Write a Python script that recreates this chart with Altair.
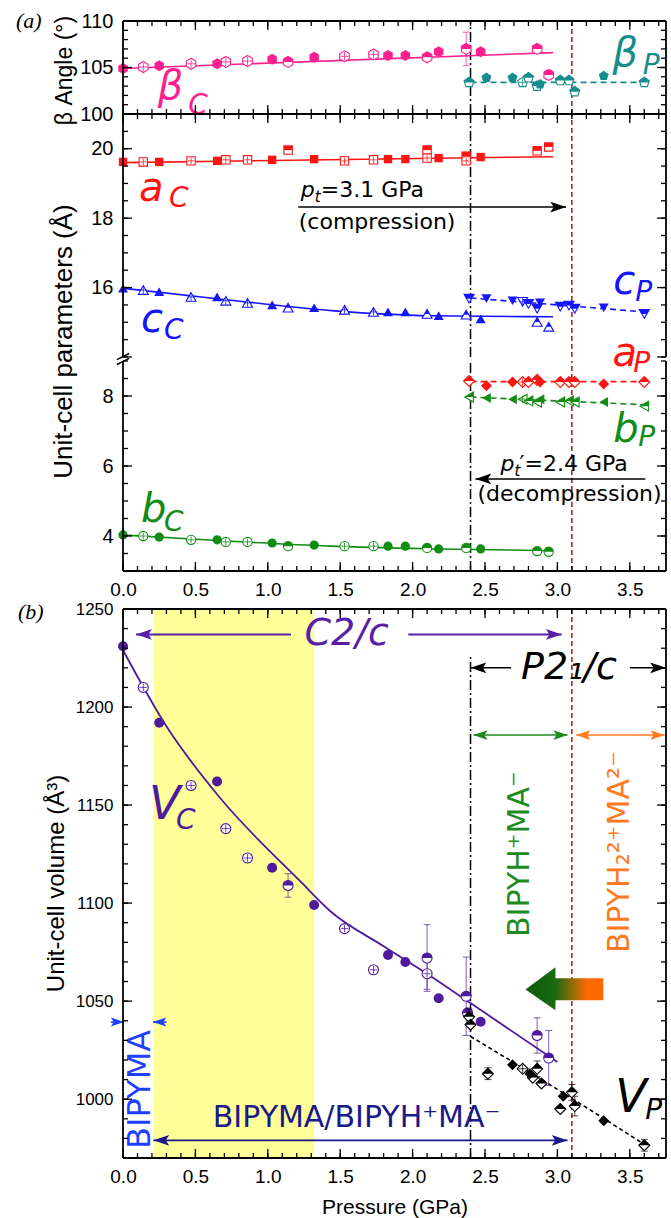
import altair as alt
import pandas as pd

SANS = "Liberation Sans"
DJ = "DejaVu Sans"
SERIF = "Liberation Serif"

# ---------------- axis ticks / labels ----------------
X_MAX = 3.75
X_TICKS = [0.0, 0.5, 1.0, 1.5, 2.0, 2.5, 3.0, 3.5]
X_MINOR = [round(0.1 * i, 1) for i in range(38)]
BETA_TICKS = [100, 105, 110]
BETA_MINOR = list(range(100, 111))
UP_TICKS = [16, 18, 20]
UP_MAJOR = [14, 16, 18, 20]
UP_MINOR = [14 + 0.5 * i for i in range(15)]
LO_TICKS = [4, 6, 8]
LO_MINOR = [3 + 0.5 * i for i in range(13)]
VOL_TICKS = [1000, 1050, 1100, 1150, 1200, 1250]
VOL_MINOR = list(range(970, 1251, 10))

P_DEC = 2.4   # p_t' (decompression)
P_CMP = 3.1   # p_t (compression)

# ---------------- C2/c phase ----------------
PC = [0.0, 0.14, 0.25, 0.47, 0.65, 0.71, 0.86, 1.03, 1.14, 1.32,
      1.53, 1.73, 1.83, 1.95, 2.10, 2.18, 2.37, 2.47, 2.86, 2.94]
KC = ['f', 'o', 'f', 'o', 'f', 'o', 'o', 'f', 'h', 'f',
      'o', 'o', 'f', 'f', 'h', 'f', 'h', 'f', 'h', 'h']
BETA_C = [104.9, 105.05, 105.2, 105.4, 105.4, 105.6, 105.7, 105.9, 105.6, 106.1,
          106.2, 106.4, 106.3, 106.3, 106.1, 106.7, 107.0, 106.7, 107.0, 104.2]
BETA_C_ERR = [0, 0, 0, 0, 0, 0, 0, 0, 0, 0, 0, 0, 0, 0, 0.4, 0, 1.8, 0, 0.4, 0.5]
A_C = [19.62, 19.62, 19.62, 19.65, 19.65, 19.68, 19.68, 19.68, 19.96, 19.70,
       19.65, 19.68, 19.70, 19.70, 19.96, 19.73, 19.78, 19.76, 19.94, 20.05]
A_C_ERR = [0, 0, 0, 0, 0, 0, 0, 0, 0, 0, 0, 0, 0, 0, 0.06, 0, 0.12, 0, 0.06, 0.1]
A_C_EXTRA_P = [2.10, 2.37]
A_C_EXTRA = [19.73, 19.65]
C_C = [15.98, 15.93, 15.88, 15.73, 15.73, 15.62, 15.56, 15.50, 15.42, 15.42,
       15.36, 15.30, 15.30, 15.30, 15.24, 15.19, 15.22, 15.10, 15.01, 14.87]
B_C = [4.03, 4.00, 3.97, 3.89, 3.89, 3.83, 3.83, 3.80, 3.71, 3.74,
       3.71, 3.71, 3.71, 3.71, 3.66, 3.63, 3.66, 3.63, 3.57, 3.55]

PV = [0.0, 0.14, 0.25, 0.47, 0.65, 0.71, 0.86, 1.03, 1.14, 1.32, 1.53,
      1.73, 1.83, 1.95, 2.10, 2.10, 2.18, 2.37, 2.38, 2.47, 2.86, 2.94]
KV = ['f', 'o', 'f', 'o', 'f', 'o', 'o', 'f', 'h', 'f', 'o',
      'o', 'f', 'f', 'h', 'o', 'f', 'h', 'h', 'f', 'h', 'h']
V_C = [1231, 1210, 1192, 1160, 1162, 1138, 1123, 1118, 1109, 1099, 1087,
       1066, 1073.5, 1070, 1072, 1064, 1051.5, 1052.5, 1044, 1039.5, 1032.5, 1021]
V_C_ERR = [0, 0, 0, 0, 0, 0, 0, 0, 6, 0, 0,
           0, 0, 0, 17, 8, 0, 20, 0, 0, 9, 14]

# ---------------- P2_1/c phase ----------------
PP = [2.39, 2.51, 2.69, 2.76, 2.80, 2.86, 2.88, 3.02, 3.08, 3.12, 3.32, 3.60]
KP = ['h', 'f', 'f', 'o', 'h', 'h', 'f', 'h', 'h', 'h', 'f', 'h']
BETA_P = [103.4, 103.9, 103.9, 103.4, 103.9, 103.0, 103.2, 103.6, 103.6, 102.4, 104.1, 103.4]
C_P = [15.68, 15.68, 15.62, 15.59, 15.53, 15.39, 15.56, 15.45, 15.48, 15.39, 15.42, 15.24]
A_P = [8.43, 8.29, 8.40, 8.40, 8.40, 8.46, 8.40, 8.40, 8.40, 8.40, 8.34, 8.40]
B_P = [7.97, 7.94, 7.91, 7.91, 7.86, 7.83, 7.91, 7.83, 7.86, 7.83, 7.83, 7.71]

PVP = [2.39, 2.40, 2.52, 2.69, 2.76, 2.81, 2.83, 2.86, 2.89, 3.02, 3.04, 3.10, 3.12, 3.32, 3.60]
KVP = ['h', 'h', 'h', 'f', 'o', 'f', 'h', 'h', 'h', 'h', 'f', 'h', 'h', 'f', 'h']
V_P = [1042, 1038, 1013, 1017.5, 1015.5, 1013, 1011, 1015.5, 1008, 995, 1001.5, 1003.5, 996.5, 989, 976.5]
V_P_ERR = [4, 0, 3, 0, 0, 0, 0, 4, 0, 0, 0, 4, 5, 0, 3]

# ---------------- fitted curves ----------------
BETA_C_FIT_P, BETA_C_FIT = [0.0, 2.97], [104.9, 106.6]
BETA_P_FIT_P, BETA_P_FIT = [2.4, 3.6], [103.4, 103.4]
A_C_FIT_P, A_C_FIT = [0.0, 2.97], [19.60, 19.77]
C_C_FIT_P, C_C_FIT = [0.0, 0.65, 1.46, 2.12, 2.97], [15.98, 15.68, 15.33, 15.19, 15.16]
B_C_FIT_P, B_C_FIT = [0.0, 0.65, 1.43, 2.2, 2.97], [4.03, 3.87, 3.71, 3.63, 3.58]
C_P_FIT_P, C_P_FIT = [2.4, 3.0, 3.6], [15.70, 15.50, 15.30]
A_P_FIT_P, A_P_FIT = [2.4, 3.6], [8.41, 8.41]
B_P_FIT_P, B_P_FIT = [2.4, 3.6], [7.97, 7.75]
V_C_FIT_P = [0.0, 0.31, 0.655, 1.23, 1.43, 1.8, 2.12, 2.40, 3.0]
V_C_FIT = [1229, 1189, 1155, 1110.7, 1096, 1078, 1063, 1049, 1019]
V_P_FIT_P, V_P_FIT = [2.4, 3.0, 3.62], [1032, 1005, 976]

# ---------------- colours ----------------
PINK = "#ff1f8f"
TEAL = "#168c8c"
RED = "#ff1414"
BLUE = "#1414ff"
GREEN = "#128c12"
PURPLE = "#4f1a9c"
NAVY = "#1a1a8a"
DRED = "#9c1a1a"
ORANGE = "#ff7a1f"
BBLUE = "#1f3fff"

# ---------------- shapes ----------------
HEX = "M0,-1L0.866,-0.5L0.866,0.5L0,1L-0.866,0.5L-0.866,-0.5Z"
HEX_H = "M-0.866,0L-0.866,-0.5L0,-1L0.866,-0.5L0.866,0Z"
PENT = "M0,-1L0.951,-0.309L0.588,0.809L-0.588,0.809L-0.951,-0.309Z"
PENT_H = "M0,-1L0.951,-0.309L0.851,0L-0.851,0L-0.951,-0.309Z"
SQ_H = "M-1,-1L1,-1L1,0L-1,0Z"
CIRC_H = "M-1,0A1,1,0,0,1,1,0Z"
DIA_H = "M-1,0L0,-1L1,0Z"
TRU_H = "M0,-0.866L0.5,0L-0.5,0Z"
TRD_H = "M-1,-0.866L1,-0.866L0.5,0L-0.5,0Z"
TRL_H = "M-0.866,0L0.866,-1L0.866,0Z"
CROSS = "M-0.75,0L0.75,0M0,-0.75L0,0.75"
HEAD_R = "M0,0L-1,-0.34L-0.78,0L-1,0.34Z"
HEAD_L = "M0,0L1,-0.34L0.78,0L1,0.34Z"
BREAK = "M-1,0.1L1,-0.9M-1,0.9L1,-0.1"

# ---------------- geometry ----------------
W = 543
HB, HU = 93, 243
GAP_L, HL = 4, 210     # lower panel (a) part: small gap at the axis break
GAP_V, HV = 38, 549    # panel (b): gap for panel (a) tick labels
xs = alt.Scale(domain=[0, X_MAX], nice=False, zero=False)
ys_b = alt.Scale(domain=[100, 110], nice=False, zero=False)
ys_u = alt.Scale(domain=[14, 21], nice=False, zero=False)
ys_l = alt.Scale(domain=[3, 9], nice=False, zero=False, range=[GAP_L + HL, GAP_L])
ys_v = alt.Scale(domain=[970, 1250], nice=False, zero=False, range=[GAP_V + HV, GAP_V])


def one():
    return pd.DataFrame({'d': [0]})


# data layers leave the axis implicit; the explicit axes of the axes layer win the merge
def XQ(f):
    return alt.X(f, type='quantitative', scale=xs)


def YQ(f, ys):
    return alt.Y(f, type='quantitative', scale=ys)


def frame(ys, ylo, yhi, ymaj, ymin, top=True, bottom=True):
    """Plot frame drawn through the scales, with inward ticks."""
    L = []
    e = pd.DataFrame({'a': [0.0], 'b': [X_MAX], 'lo': [ylo], 'hi': [yhi]})
    L.append(alt.Chart(e).mark_rule(color='black', strokeWidth=1.8).encode(
        x=XQ('a'), y=YQ('lo', ys), y2=alt.Y2('hi')))
    L.append(alt.Chart(e).mark_rule(color='black', strokeWidth=1.8).encode(
        x=XQ('b'), y=YQ('lo', ys), y2=alt.Y2('hi')))
    if top:
        L.append(alt.Chart(e).mark_rule(color='black', strokeWidth=1.8).encode(
            x=XQ('a'), x2=alt.X2('b'), y=YQ('hi', ys)))
    if bottom:
        L.append(alt.Chart(e).mark_rule(color='black', strokeWidth=1.8).encode(
            x=XQ('a'), x2=alt.X2('b'), y=YQ('lo', ys)))
    for vals, ln in ((X_TICKS, 9), (X_MINOR, 5)):
        df = pd.DataFrame({'t': vals})
        df['lo'] = ylo
        df['hi'] = yhi
        if top:
            L.append(alt.Chart(df).mark_tick(orient='vertical', size=ln, thickness=1.3, color='black',
                                             opacity=1, yOffset=ln / 2).encode(
                x=XQ('t'), y=YQ('hi', ys)))
        if bottom:
            L.append(alt.Chart(df).mark_tick(orient='vertical', size=ln, thickness=1.3, color='black',
                                             opacity=1, yOffset=-ln / 2).encode(
                x=XQ('t'), y=YQ('lo', ys)))
    for vals, ln in ((ymaj, 9), (ymin, 5)):
        df = pd.DataFrame({'t': vals})
        df['a'] = 0.0
        df['b'] = X_MAX
        L.append(alt.Chart(df).mark_tick(orient='horizontal', size=ln, thickness=1.3, color='black',
                                         opacity=1, xOffset=ln / 2).encode(
            x=XQ('a'), y=YQ('t', ys)))
        L.append(alt.Chart(df).mark_tick(orient='horizontal', size=ln, thickness=1.3, color='black',
                                         opacity=1, xOffset=-ln / 2).encode(
            x=XQ('b'), y=YQ('t', ys)))
    return L


def axes_layer(ys, v0, xaxis, yaxis):
    df = pd.DataFrame({'p': [0.0], 'v': [v0]})
    return alt.Chart(df).mark_point(opacity=0).encode(
        x=alt.X('p:Q', scale=xs, axis=xaxis),
        y=alt.Y('v:Q', scale=ys, axis=yaxis))


def yaxis(vals, size, title=None, tsize=26, tx=-52, ty=0):
    kw = dict(values=vals, format='.0f', ticks=False, domain=False, grid=False,
              labelFont=SANS, labelFontSize=size, labelColor='black', labelPadding=10,
              labelFlush=False, title=title)
    if title:
        kw.update(titleFont=SANS, titleFontSize=tsize, titleFontWeight='normal',
                  titleColor='black', titleX=tx, titleY=ty, titleBaseline='alphabetic',
                  titleAngle=270)
    return alt.Axis(**kw)


def xaxis(title=None):
    kw = dict(values=X_TICKS, format='.1f', ticks=False, domain=False, grid=False,
              labelFont=SANS, labelFontSize=19, labelColor='black', labelPadding=9,
              labelFlush=False, title=title)
    if title:
        kw.update(titleFont=SANS, titleFontSize=21, titleFontWeight='normal',
                  titleColor='black', titlePadding=10)
    return alt.Axis(**kw)


def pts(p, v, k, ys, shape, half, color, size, err=None):
    df = pd.DataFrame({'p': p, 'v': v, 'k': k})
    out = []
    if err is not None:
        df['e'] = err
        de = df[df['e'] > 0].copy()
        de['lo'] = de['v'] - de['e']
        de['hi'] = de['v'] + de['e']
        if len(de):
            out.append(alt.Chart(de).mark_rule(color=color, strokeWidth=1, opacity=0.7).encode(
                x=XQ('p'), y=YQ('lo', ys), y2=alt.Y2('hi')))
            for c in ('lo', 'hi'):
                out.append(alt.Chart(de).mark_tick(color=color, orient='horizontal', size=7,
                                                   thickness=1, opacity=0.7).encode(
                    x=XQ('p'), y=YQ(c, ys)))
    d_open = df[df['k'] != 'f'][['p', 'v']]
    d_fill = df[df['k'] == 'f'][['p', 'v']]
    d_half = df[df['k'] == 'h'][['p', 'v']]
    d_cross = df[df['k'] == 'o'][['p', 'v']]
    enc = dict(x=XQ('p'), y=YQ('v', ys))
    out.append(alt.Chart(d_open).mark_point(shape=shape, filled=True, fill='white', stroke=color,
                                            strokeWidth=1.1, size=size, opacity=1).encode(**enc))
    out.append(alt.Chart(d_cross).mark_point(shape=CROSS, filled=False, color=color,
                                             strokeWidth=0.8, size=size, opacity=1).encode(**enc))
    out.append(alt.Chart(d_half).mark_point(shape=half, filled=True, color=color,
                                            size=size, opacity=1).encode(**enc))
    out.append(alt.Chart(d_fill).mark_point(shape=shape, filled=True, color=color,
                                            size=size, opacity=1).encode(**enc))
    return out


def fit(p, v, ys, color, dash=None, sw=1.6, interp='monotone'):
    df = pd.DataFrame({'p': p, 'v': v})
    mk = dict(color=color, strokeWidth=sw, interpolate=interp)
    if dash:
        mk['strokeDash'] = dash
    return alt.Chart(df).mark_line(**mk).encode(x=XQ('p'), y=YQ('v', ys))


def txt(p, v, s, ys, size, color, italic=False, font=DJ, align='left',
        baseline='alphabetic', angle=0, dx=0, dy=0):
    df = pd.DataFrame({'p': [p], 'v': [v]})
    mk = dict(text=s, fontSize=size, color=color, font=font, align=align, baseline=baseline)
    if italic:
        mk['fontStyle'] = 'italic'
    if angle:
        mk['angle'] = angle
    if dx:
        mk['dx'] = dx
    if dy:
        mk['dy'] = dy
    return alt.Chart(df).mark_text(**mk).encode(x=XQ('p'), y=YQ('v', ys))


def arrow(p0, p1, v, ys, color, sw=1.5, both=False, hs=1000):
    df = pd.DataFrame({'p0': [p0], 'p1': [p1], 'v': [v]})
    out = [alt.Chart(df).mark_rule(color=color, strokeWidth=sw).encode(
        x=XQ('p0'), x2=alt.X2('p1'), y=YQ('v', ys))]

    def head(p, right):
        return alt.Chart(pd.DataFrame({'p': [p], 'v': [v]})).mark_point(
            shape=HEAD_R if right else HEAD_L, filled=True, color=color, size=hs,
            opacity=1).encode(x=XQ('p'), y=YQ('v', ys))
    out.append(head(p1, p1 > p0))
    if both:
        out.append(head(p0, p0 > p1))
    return out


def vlines(ys, dlo, dhi, clo, chi):
    out = []
    out.append(alt.Chart(pd.DataFrame({'p': [P_DEC], 'lo': [dlo], 'hi': [dhi]})).mark_rule(
        color='black', strokeWidth=1.5, strokeDash=[10, 3, 2, 3]).encode(
        x=XQ('p'), y=YQ('lo', ys), y2=alt.Y2('hi')))
    out.append(alt.Chart(pd.DataFrame({'p': [P_CMP], 'lo': [clo], 'hi': [chi]})).mark_rule(
        color=DRED, strokeWidth=1.5, strokeDash=[5, 3]).encode(
        x=XQ('p'), y=YQ('lo', ys), y2=alt.Y2('hi')))
    return out


# ======================= panel (a): beta =======================
L = [axes_layer(ys_b, 100, None, yaxis(BETA_TICKS, 20, "β Angle (°)", tsize=23, tx=-52, ty=49))]
L += vlines(ys_b, 100, 110, 100, 110)
L.append(fit(BETA_C_FIT_P, BETA_C_FIT, ys_b, PINK))
L.append(fit(BETA_P_FIT_P, BETA_P_FIT, ys_b, TEAL, dash=[6, 4]))
L += pts(PC, BETA_C, KC, ys_b, HEX, HEX_H, PINK, 121, BETA_C_ERR)
L += pts(PP, BETA_P, KP, ys_b, PENT, PENT_H, TEAL, 110)
L.append(txt(0.24, 101.6, "β", ys_b, 40, PINK, italic=True))
L.append(txt(0.45, 100.0, "C", ys_b, 28, PINK, italic=True))
L.append(txt(3.38, 105.2, "β", ys_b, 40, TEAL, italic=True))
L.append(txt(3.59, 104.3, "P", ys_b, 28, TEAL, italic=True))
L.append(alt.Chart(one()).mark_text(text="(a)", font=SERIF, fontStyle='italic', fontSize=22,
                                    color='black', align='left', baseline='middle').encode(
    x=alt.value(-107), y=alt.value(0)))
L += frame(ys_b, 100, 110, BETA_TICKS, BETA_MINOR)
beta_chart = alt.layer(*L).properties(width=W, height=HB)

# ======================= panel (a): upper (a_C, c_C, c_P) =======================
L = [axes_layer(ys_u, 14, None,
                yaxis(UP_TICKS, 20, "Unit-cell parameters (Å)", tsize=26, tx=-52, ty=227))]
L += vlines(ys_u, 14, 21, 14, 21)
L.append(fit(A_C_FIT_P, A_C_FIT, ys_u, RED))
L.append(fit(C_C_FIT_P, C_C_FIT, ys_u, BLUE))
L.append(fit(C_P_FIT_P, C_P_FIT, ys_u, BLUE, dash=[6, 4]))
L += pts(PC, A_C, KC, ys_u, 'square', SQ_H, RED, 70, A_C_ERR)
L += pts(A_C_EXTRA_P, A_C_EXTRA, ['o', 'o'], ys_u, 'square', SQ_H, RED, 70)
L += pts(PC, C_C, KC, ys_u, 'triangle-up', TRU_H, BLUE, 100)
L += pts(PP, C_P, KP, ys_u, 'triangle-down', TRD_H, BLUE, 100)
L.append(txt(0.11, 18.50, "a", ys_u, 40, RED, italic=True))
L.append(txt(0.317, 18.32, "C", ys_u, 28, RED, italic=True))
L.append(txt(0.124, 14.73, "c", ys_u, 40, BLUE, italic=True))
L.append(txt(0.283, 14.53, "C", ys_u, 28, BLUE, italic=True))
L.append(txt(3.386, 15.82, "c", ys_u, 40, BLUE, italic=True))
L.append(txt(3.538, 15.62, "P", ys_u, 28, BLUE, italic=True))
# p_t = 3.1 GPa (compression)
L.append(txt(1.228, 18.61, "p", ys_u, 22, 'black', italic=True))
L.append(txt(1.228, 18.61, "t", ys_u, 15, 'black', italic=True, dx=14, dy=5))
L.append(txt(1.228, 18.61, "=3.1 GPa", ys_u, 22, 'black', dx=20))
L += arrow(1.21, 3.06, 18.32, ys_u, 'black', sw=1.4)
L.append(txt(1.214, 17.69, "(compression)", ys_u, 22, 'black'))
L += frame(ys_u, 14, 21, UP_MAJOR, UP_MINOR, bottom=False)
upper_chart = alt.layer(*L).properties(width=W, height=HU)

# ======================= panel (a): lower (b_C, a_P, b_P) =======================
L = [axes_layer(ys_l, 3, xaxis(), yaxis(LO_TICKS, 20))]
L += vlines(ys_l, 3, 9, 3, 9)
L.append(fit(B_C_FIT_P, B_C_FIT, ys_l, GREEN))
L.append(fit(A_P_FIT_P, A_P_FIT, ys_l, RED, dash=[6, 4]))
L.append(fit(B_P_FIT_P, B_P_FIT, ys_l, GREEN, dash=[6, 4]))
L += pts(PC, B_C, KC, ys_l, 'circle', CIRC_H, GREEN, 85)
L += pts(PP, A_P, KP, ys_l, 'diamond', DIA_H, RED, 121)
L += pts(PP, B_P, KP, ys_l, 'triangle-left', TRL_H, GREEN, 100)
L.append(txt(0.124, 4.40, "b", ys_l, 40, GREEN, italic=True))
L.append(txt(0.283, 4.14, "C", ys_l, 28, GREEN, italic=True))
L.append(txt(3.38, 8.86, "a", ys_l, 40, RED, italic=True))
L.append(txt(3.524, 8.69, "P", ys_l, 28, RED, italic=True))
L.append(txt(3.386, 6.69, "b", ys_l, 40, GREEN, italic=True))
L.append(txt(3.559, 6.57, "P", ys_l, 28, GREEN, italic=True))
# p_t' = 2.4 GPa (decompression)
L.append(txt(2.607, 5.86, "p", ys_l, 22, 'black', italic=True))
L.append(txt(2.607, 5.86, "t", ys_l, 15, 'black', italic=True, dx=14, dy=5))
L.append(txt(2.607, 5.86, "\u2032=2.4 GPa", ys_l, 22, 'black', dx=19))
L += arrow(3.607, 2.434, 5.63, ys_l, 'black', sw=1.4)
L.append(txt(2.448, 4.99, "(decompression)", ys_l, 22, 'black'))
# axis break mark on the left axis
L.append(alt.Chart(pd.DataFrame({'p': [0.0], 'v': [9.0]})).mark_point(
    shape=BREAK, filled=False, stroke='black', strokeWidth=1.5, size=150, opacity=1,
    yOffset=-2).encode(x=XQ('p'), y=YQ('v', ys_l)))
L += frame(ys_l, 3, 9, LO_TICKS, LO_MINOR, top=False)
lower_chart = alt.layer(*L).properties(width=W, height=GAP_L + HL)

# ======================= panel (b): volume =======================
L = [axes_layer(ys_v, 970, xaxis("Pressure (GPa)"),
                yaxis(VOL_TICKS, 17, "Unit-cell volume (Å³)", tsize=24, tx=-60, ty=GAP_V + 274))]
L.append(alt.Chart(pd.DataFrame({'a': [0.21], 'b': [1.32], 'lo': [970], 'hi': [1250]})).mark_rect(
    color="#ffff99", opacity=1).encode(
    x=XQ('a'), x2=alt.X2('b'), y=YQ('lo', ys_v), y2=alt.Y2('hi')))
L += vlines(ys_v, 970, 1226, 970, 1250)
L.append(fit(V_C_FIT_P, V_C_FIT, ys_v, PURPLE, sw=1.8))
L.append(fit(V_P_FIT_P, V_P_FIT, ys_v, 'black', dash=[4, 3], sw=1.6))
L += pts(PV, V_C, KV, ys_v, 'circle', CIRC_H, PURPLE, 100, V_C_ERR)
L += pts(PVP, V_P, KVP, ys_v, 'diamond', DIA_H, 'black', 121, V_P_ERR)
# space groups
L.append(txt(1.545, 1237, "C2/c", ys_v, 38, "#5a1ea5", italic=True, align='center', baseline='middle'))
L += arrow(1.16, 0.09, 1237, ys_v, "#5a1ea5", sw=2)
L += arrow(1.97, 3.03, 1237, ys_v, "#5a1ea5", sw=2)
L.append(txt(3.08, 1220, "P2\u2081/c", ys_v, 38, 'black', italic=True, align='center', baseline='middle'))
L += arrow(2.68, 2.40, 1220, ys_v, 'black', sw=1.6)
L += arrow(3.50, 3.75, 1220, ys_v, 'black', sw=1.6)
# salt / cocrystal regions
L += arrow(2.42, 3.07, 1185.7, ys_v, "#1d8c1d", sw=1.6, both=True, hs=800)
L += arrow(3.13, 3.74, 1185.7, ys_v, ORANGE, sw=1.6, both=True, hs=800)
L.append(txt(2.745, 1125, "BIPYH\u207aMA\u207b", ys_v, 30, "#1d8c1d", align='center',
             baseline='middle', angle=270))
L.append(txt(3.43, 1126, "BIPYH\u2082\u00b2\u207aMA\u00b2\u207b", ys_v, 30, ORANGE, align='center',
             baseline='middle', angle=270))
# gradient arrow (decompression back-transition)
ga = pd.DataFrame({'p': [2.78, 2.986, 2.987, 3.317],
                   'top': [1056.0, 1067.3, 1061.7, 1061.7],
                   'bot': [1056.0, 1045.4, 1050.5, 1050.5]})
L.append(alt.Chart(ga).mark_area(
    interpolate='linear', opacity=1,
    color=alt.Gradient(gradient='linear', x1=0, x2=1, y1=0, y2=0,
                       stops=[alt.GradientStop(color='#0b5c0b', offset=0),
                              alt.GradientStop(color='#1a6a12', offset=0.38),
                              alt.GradientStop(color='#ff6a00', offset=0.8),
                              alt.GradientStop(color='#ff6a00', offset=1)])).encode(
    x=XQ('p'), y=YQ('top', ys_v), y2=alt.Y2('bot')))
# BIPYMA range
L += arrow(-0.083, 0.007, 1039.3, ys_v, BBLUE, sw=1.6, hs=700)
L += arrow(0.30, 0.207, 1039.3, ys_v, BBLUE, sw=1.6, hs=700)
L.append(txt(0.114, 1005, "BIPYMA", ys_v, 32, BBLUE, align='center', baseline='middle', angle=270))
L += arrow(3.07, 0.21, 979, ys_v, NAVY, sw=1.6, both=True)
L.append(txt(0.62, 986, "BIPYMA/BIPYH\u207aMA\u207b", ys_v, 30, NAVY))
# phase labels
L.append(txt(0.18, 1142.9, "V", ys_v, 46, PURPLE, italic=True))
L.append(txt(0.366, 1137.8, "C", ys_v, 28, PURPLE, italic=True))
L.append(txt(3.40, 993.4, "V", ys_v, 46, 'black', italic=True))
L.append(txt(3.607, 990, "P", ys_v, 28, 'black', italic=True))
L.append(alt.Chart(one()).mark_text(text="(b)", font=SERIF, fontStyle='italic', fontSize=22,
                                    color='black', align='left', baseline='middle').encode(
    x=alt.value(-105), y=alt.value(GAP_V + 3)))
L += frame(ys_v, 970, 1250, VOL_TICKS, VOL_MINOR)
vol_chart = alt.layer(*L).properties(width=W, height=GAP_V + HV)

chart = alt.vconcat(beta_chart, upper_chart, lower_chart, vol_chart,
                    spacing=0, bounds='flush').properties(
    padding={'left': 16, 'top': 10, 'right': 2, 'bottom': 2}, background='white'
).configure_view(stroke=None)

chart.save("out.html", embed_options={"renderer": "svg", "actions": False})
